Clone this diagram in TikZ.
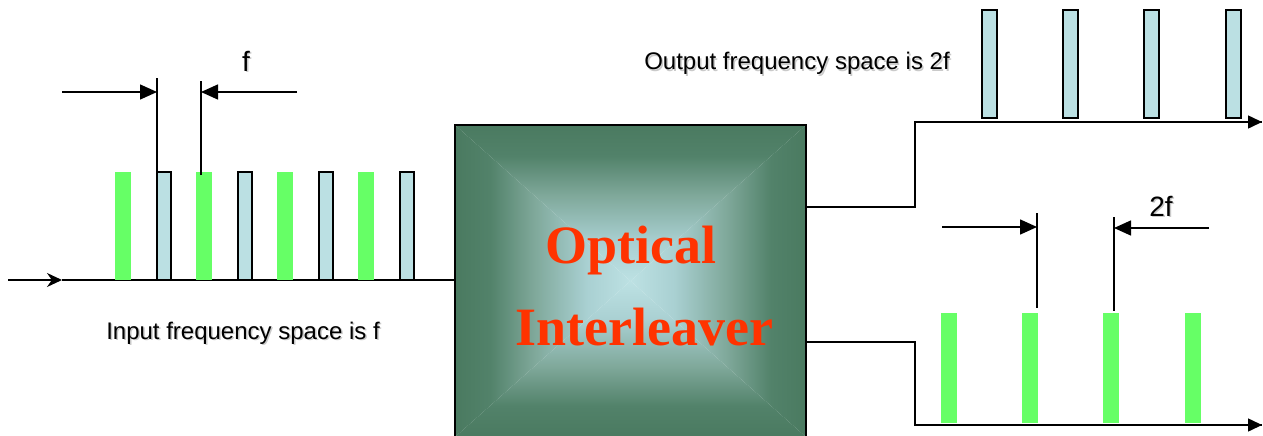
\documentclass[tikz,border=0pt]{standalone}
\usepackage{fontspec}
\setmainfont{Liberation Serif}
\setsansfont{Liberation Sans}
\usetikzlibrary{arrows.meta}
\definecolor{grn}{HTML}{66FF66}
\definecolor{lblue}{HTML}{BBE0E3}
\definecolor{dkg}{HTML}{4A7A60}
\definecolor{cA}{HTML}{52826A}
\definecolor{cB}{HTML}{7FA89A}
\definecolor{cC}{HTML}{A9D0D2}
\definecolor{ltc}{HTML}{BDE1E3}
\definecolor{txtred}{HTML}{FF3300}
\pgfdeclareverticalshading{gtop}{100bp}{color(0bp)=(ltc); color(25bp)=(ltc); color(37.5bp)=(cC); color(52.5bp)=(cB); color(65bp)=(cA); color(75bp)=(dkg); color(100bp)=(dkg)}
\pgfdeclareverticalshading{gbot}{100bp}{color(0bp)=(dkg); color(25bp)=(dkg); color(35bp)=(cA); color(47.5bp)=(cB); color(62.5bp)=(cC); color(75bp)=(ltc); color(100bp)=(ltc)}
\pgfdeclarehorizontalshading{gleft}{100bp}{color(0bp)=(dkg); color(25bp)=(dkg); color(35bp)=(cA); color(47.5bp)=(cB); color(62.5bp)=(cC); color(75bp)=(ltc); color(100bp)=(ltc)}
\pgfdeclarehorizontalshading{gright}{100bp}{color(0bp)=(ltc); color(25bp)=(ltc); color(37.5bp)=(cC); color(52.5bp)=(cB); color(65bp)=(cA); color(75bp)=(dkg); color(100bp)=(dkg)}
\tikzset{
  ln/.style={line width=1.5pt, black},
  dimarrow/.style={ln, -{Triangle[length=17pt,width=15pt]}},
  axarrow/.style={ln, -{Triangle[length=14pt,width=13pt]}},
  greenbar/.style={fill=grn, draw=none},
  bluebar/.style={fill=lblue, draw=black, line width=1.3pt},
  smalltxt/.style={font=\sffamily\fontsize{24}{28}\selectfont, inner sep=0pt, anchor=base},
  bigtxt/.style={font=\sffamily\fontsize{28}{32}\selectfont, inner sep=0pt, anchor=base},
  shadowtxt/.style={text=black!35, opacity=0.6},
  redtxt/.style={font=\bfseries\fontsize{54}{60}\selectfont, text=txtred, inner sep=0pt, anchor=base},
}
\begin{document}
\begin{tikzpicture}[x=1pt,y=-1pt]
\useasboundingbox (0,0) rectangle (1263,436);
% box shading
\coordinate (TL) at (455,125);
\coordinate (TR) at (806,125);
\coordinate (BR) at (806,437);
\coordinate (BL) at (455,437);
\coordinate (C) at (630.5,281);
\shade[shading=gtop] (TL) -- (TR) -- (C) -- cycle;
\shade[shading=gbot] (BL) -- (BR) -- (C) -- cycle;
\shade[shading=gleft] (TL) -- (BL) -- (C) -- cycle;
\shade[shading=gright] (TR) -- (BR) -- (C) -- cycle;
\node[draw=black, line width=1.5pt, minimum width=351pt, minimum height=312pt, inner sep=0pt] (box) at (C) {};
\node[redtxt] (opt) at (631,263) {Optical};
\node[redtxt] (intl) at (644,345) {Interleaver};
% input line
\coordinate (inS) at (8,280);
\coordinate (inM) at (62,280);
\draw[ln, -{Stealth[length=15pt,width=14pt]}] (inS) -- (inM);
\draw[ln] (inM) -- (box.west |- inM);
% input bars
\foreach \x in {115,196,277,358} \fill[greenbar] (\x,172) rectangle ++(16,108);
\foreach \x in {157,238,319,400} \filldraw[bluebar] (\x,172) rectangle ++(14,108);
% f dimension
\coordinate (fv1a) at (157,78); \coordinate (fv1b) at (157,172);
\coordinate (fv2a) at (201,81); \coordinate (fv2b) at (201,175);
\draw[ln] (fv1a) -- (fv1b);
\draw[ln] (fv2a) -- (fv2b);
\coordinate (fa1) at (62,92); \coordinate (fa1t) at (157,92);
\coordinate (fa2) at (297,92); \coordinate (fa2t) at (201,92);
\draw[dimarrow] (fa1) -- (fa1t);
\draw[dimarrow] (fa2) -- (fa2t);
\node[bigtxt, shadowtxt] (fsh) at (247.5,72.5) {f};
\node[bigtxt] (flbl) at (246,71) {f};
% input text
\node[smalltxt, shadowtxt] (insh) at (244.5,340.5) {Input frequency space is f};
\node[smalltxt] (inlbl) at (243,339) {Input frequency space is f};
% upper output
\coordinate (u1) at (915,207);
\coordinate (u2) at (915,122);
\coordinate (u3) at (1262,122);
\draw[ln] (box.east |- u1) -- (u1) -- (u2) -- (u3);
\draw[axarrow] (1240,122) -- (u3);
\foreach \x in {982,1063,1144,1226} \filldraw[bluebar] (\x,10) rectangle ++(15,108);
\node[smalltxt, shadowtxt] (outsh) at (798.5,71.5) {Output frequency space is 2f};
\node[smalltxt] (outlbl) at (797,70) {Output frequency space is 2f};
% lower output
\coordinate (l1) at (915,342);
\coordinate (l2) at (915,425);
\coordinate (l3) at (1262,425);
\draw[ln] (box.east |- l1) -- (l1) -- (l2) -- (l3);
\draw[axarrow] (1240,425) -- (l3);
\foreach \x in {941,1022,1103,1185} \fill[greenbar] (\x,313) rectangle ++(16,110);
% 2f dimension
\coordinate (gv1a) at (1037,213); \coordinate (gv1b) at (1037,308);
\coordinate (gv2a) at (1114,217); \coordinate (gv2b) at (1114,311);
\draw[ln] (gv1a) -- (gv1b);
\draw[ln] (gv2a) -- (gv2b);
\coordinate (ga1) at (942,227); \coordinate (ga1t) at (1037,227);
\coordinate (ga2) at (1209,228); \coordinate (ga2t) at (1114,228);
\draw[dimarrow] (ga1) -- (ga1t);
\draw[dimarrow] (ga2) -- (ga2t);
\node[bigtxt, shadowtxt] (g2sh) at (1162.5,217.5) {2f};
\node[bigtxt] (g2lbl) at (1161,216) {2f};
\end{tikzpicture}
\end{document}
